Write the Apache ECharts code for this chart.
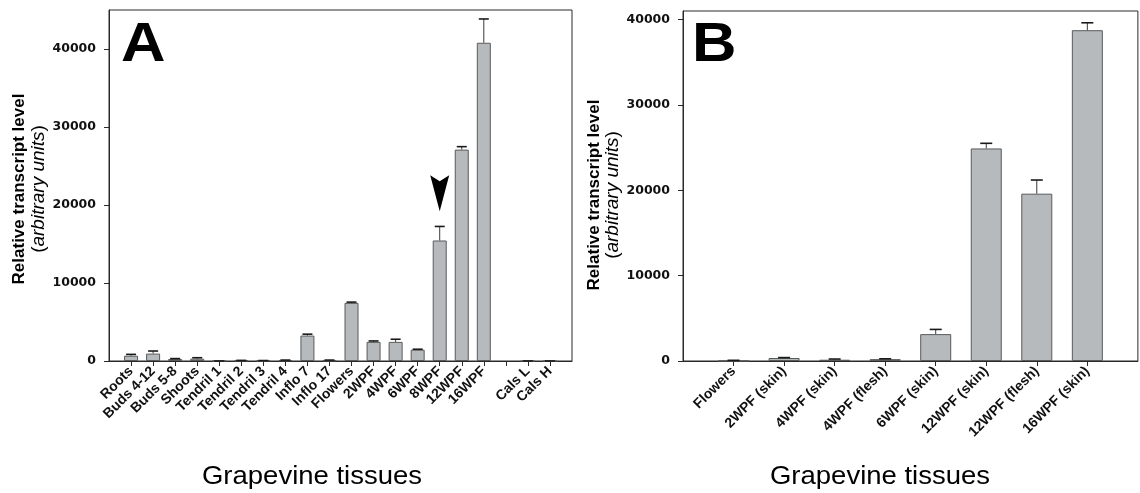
<!DOCTYPE html>
<html><head><meta charset="utf-8">
<script src="https://cdn.jsdelivr.net/npm/echarts@6/dist/echarts.min.js"></script>
<style>html,body{margin:0;padding:0;background:#fff}#c{width:1140px;height:493px}</style>
</head><body><div id="c"></div>
<script>
// ---- Panel A data ----
const catsA = ['Roots','Buds 4-12','Buds 5-8','Shoots','Tendril 1','Tendril 2','Tendril 3','Tendril 4','Inflo 7','Inflo 17','Flowers','2WPF','4WPF','6WPF','8WPF','12WPF','16WPF','','Cals L','Cals H'];
const valsA = [680,950,260,300,0,60,40,90,3260,80,7450,2450,2450,1450,15450,27100,40800,null,0,0];
const errsA = [170,330,50,120,0,20,20,30,180,40,100,120,340,60,1800,380,3050,null,0,0];
const yTicksA = [0,10000,20000,30000,40000];
const yMaxA = 45000;
const arrowCat = '8WPF';
const arrowValue = 21500;
// ---- Panel B data ----
const catsB = ['Flowers','2WPF (skin)','4WPF (skin)','4WPF (flesh)','6WPF (skin)','12WPF (skin)','12WPF (flesh)','16WPF (skin)'];
const valsB = [20,350,150,220,3150,24900,19600,38750];
const errsB = [60,50,80,40,550,600,1600,870];
const yTicksB = [0,10000,20000,30000,40000];
const yMaxB = 41000;
const yTitle = 'Relative transcript level';
const yTitle2 = 'arbitrary units';
const xTitle = 'Grapevine tissues';

const pad = a => [''].concat(a, ['']);
const padV = a => [null].concat(a, [null]);
const axisA = pad(catsA), axisB = pad(catsB);
const barA = padV(valsA), barB = padV(valsB);
const errDataA = [], errDataB = [];
valsA.forEach((v,i)=>{ if(v!==null) errDataA.push([i+1, v, errsA[i]]); });
valsB.forEach((v,i)=>{ errDataB.push([i+1, v, errsB[i]]); });

const FONT = '"Liberation Sans", Arial, sans-serif';
const axCol = '#2a2a2a';
const barFill = '#b7babc';
const barBorder = '#585b5c';

function errRender(capHalf){
  return function(params, api){
    const x = api.value(0), v = api.value(1), e = api.value(2);
    const p0 = api.coord([x, v]);
    const p1 = api.coord([x, v + e]);
    return {type:'group', children:[
      {type:'line', shape:{x1:p0[0],y1:p0[1],x2:p1[0],y2:p1[1]}, style:{stroke:'#3a3a3a',lineWidth:1}},
      {type:'line', shape:{x1:p1[0]-capHalf,y1:p1[1],x2:p1[0]+capHalf,y2:p1[1]}, style:{stroke:'#1a1a1a',lineWidth:1.6}}
    ]};
  };
}

const xLab = {interval:0, rotate:45, fontFamily:FONT, fontWeight:'bold', fontSize:14, color:'#111', margin:8};
const yLab = {fontFamily:'"DejaVu Sans", sans-serif', fontWeight:'bold', fontSize:12.5, color:'#111', margin:13, formatter:(v)=>String(v)};

const chart = echarts.init(document.getElementById('c'), null, {renderer:'canvas'});
chart.setOption({
  animation:false,
  grid:[
    {left:109, top:10, width:463, height:351, show:true, borderColor:axCol, borderWidth:1},
    {left:683, top:11, width:464, height:350, show:true, borderColor:axCol, borderWidth:1}
  ],
  xAxis:[
    {gridIndex:0, type:'category', data:axisA, boundaryGap:false,
     axisLine:{lineStyle:{color:axCol}},
     axisTick:{length:5, lineStyle:{color:axCol}, interval:(i)=> i!==0 && i!==axisA.length-1},
     axisLabel:xLab},
    {gridIndex:1, type:'category', data:axisB, boundaryGap:false,
     axisLine:{lineStyle:{color:axCol}},
     axisTick:{length:5, lineStyle:{color:axCol}, interval:(i)=> i!==0 && i!==axisB.length-1},
     axisLabel:xLab}
  ],
  yAxis:[
    {gridIndex:0, type:'value', min:0, max:yMaxA, splitLine:{show:false},
     axisLine:{show:true, lineStyle:{color:axCol}},
     axisTick:{show:true, length:5, lineStyle:{color:axCol}, customValues:yTicksA},
     axisLabel:Object.assign({customValues:yTicksA}, yLab)},
    {gridIndex:1, type:'value', min:0, max:yMaxB, splitLine:{show:false},
     axisLine:{show:true, lineStyle:{color:axCol}},
     axisTick:{show:true, length:5, lineStyle:{color:axCol}, customValues:yTicksB},
     axisLabel:Object.assign({customValues:yTicksB}, yLab)}
  ],
  series:[
    {type:'bar', xAxisIndex:0, yAxisIndex:0, data:barA, barWidth:14,
     itemStyle:{color:barFill, borderColor:barBorder, borderWidth:1},
     markPoint:{symbol:'path://M0,0 L9,6 L18,0 L9,36 Z', symbolSize:[19,36],
       itemStyle:{color:'#000'}, label:{show:false},
       data:[{coord:[arrowCat, arrowValue]}]}},
    {type:'custom', xAxisIndex:0, yAxisIndex:0, data:errDataA, renderItem:errRender(5), z:3},
    {type:'bar', xAxisIndex:1, yAxisIndex:1, data:barB, barWidth:31,
     itemStyle:{color:barFill, borderColor:barBorder, borderWidth:1}},
    {type:'custom', xAxisIndex:1, yAxisIndex:1, data:errDataB, renderItem:errRender(6), z:3}
  ],
  graphic:[
    {type:'text', x:121, y:18, scaleX:1.1, style:{text:'A', font:'bold 56px "Liberation Sans", Arial', fill:'#000'}},
    {type:'text', x:692, y:18, scaleX:1.1, style:{text:'B', font:'bold 56px "Liberation Sans", Arial', fill:'#000'}},
    {type:'text', x:19.5, y:189, rotation:Math.PI/2, style:{text:yTitle, font:'bold 17px "Liberation Sans", Arial', fill:'#000', align:'center', verticalAlign:'middle'}},
    {type:'text', x:38.5, y:189, rotation:Math.PI/2, style:{text:'({i|'+yTitle2+'})', font:'19px "Liberation Sans", Arial', fill:'#000', align:'center', verticalAlign:'middle', rich:{i:{fontStyle:'italic', fontSize:19, fontFamily:'"Liberation Sans", Arial'}}}},
    {type:'text', x:594, y:195, rotation:Math.PI/2, style:{text:yTitle, font:'bold 17px "Liberation Sans", Arial', fill:'#000', align:'center', verticalAlign:'middle'}},
    {type:'text', x:613, y:195, rotation:Math.PI/2, style:{text:'({i|'+yTitle2+'})', font:'19px "Liberation Sans", Arial', fill:'#000', align:'center', verticalAlign:'middle', rich:{i:{fontStyle:'italic', fontSize:19, fontFamily:'"Liberation Sans", Arial'}}}},
    {type:'text', x:312, y:477, scaleX:1.1, style:{text:xTitle, font:'25px "Liberation Sans", Arial', fill:'#000', align:'center', verticalAlign:'middle'}},
    {type:'text', x:880, y:477, scaleX:1.1, style:{text:xTitle, font:'25px "Liberation Sans", Arial', fill:'#000', align:'center', verticalAlign:'middle'}}
  ]
});
</script></body></html>
